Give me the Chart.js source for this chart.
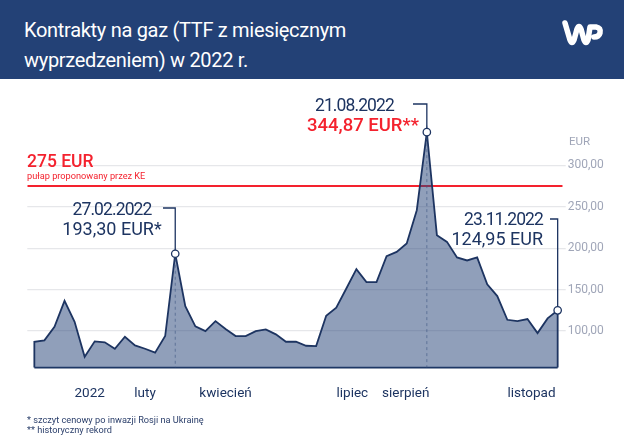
<!DOCTYPE html>
<html lang="pl">
<head>
<meta charset="utf-8">
<title>Kontrakty na gaz</title>
<script src="https://cdn.jsdelivr.net/npm/chart.js@4/dist/chart.umd.min.js"></script>
<style>
    html, body { margin: 0; padding: 0; background: #fff; }
    body { width: 624px; height: 444px; position: relative; overflow: hidden; font-family: Roboto, "Noto Sans", sans-serif; }
    #header { position: absolute; left: 0; top: 0; width: 624px; height: 79px; background: #234176; }
    #title { position: absolute; left: 24px; top: 15px; color: #fff; font-size: 20px; letter-spacing: -0.3px; line-height: 30px; white-space: nowrap; }
    #logo { position: absolute; left: 560px; top: 18px; }
    #chartBox { position: absolute; left: 0; top: 79px; width: 624px; height: 365px; }
    #gasChart { display: block; }
    .note { position: absolute; white-space: nowrap; color: #1d3461; font-size: 18px; line-height: 20px; }
    .date { font-size: 17.5px; letter-spacing: -0.9px; }
    .red { color: #f4222e; font-weight: 500; font-size: 18.5px; }
    #capValue { position: absolute; left: 27px; top: 151px; color: #f4222e; font-size: 17.5px; font-weight: 500; }
    #capNote { position: absolute; left: 27px; top: 170px; color: #f4222e; font-size: 9.2px; }
    #unit { position: absolute; left: 569px; top: 134px; color: #a0a6b8; font-size: 11.5px; }
    #foot { position: absolute; left: 27px; top: 415px; color: #2b3f6b; font-size: 9.2px; line-height: 10px; }
</style>
</head>
<body>
<div id="header">
    <div id="title">Kontrakty na gaz (TTF z miesięcznym<br>wyprzedzeniem) w 2022 r.</div>
    <svg id="logo" width="46" height="30" viewBox="0 0 46 30">
        <path d="M5 5 L10 22 Q12 27 14 22 L17 11 Q19 6 21 11 L24 22 Q26 27 28 22 L30 9 L36 9 Q41 10 40 15 Q39 19 34 19" fill="none" stroke="#fff" stroke-width="5.5" stroke-linecap="round" stroke-linejoin="round"/>
    </svg>
</div>
<div id="chartBox"><canvas id="gasChart" width="624" height="365"></canvas></div>
<div id="capValue">275 EUR</div>
<div id="capNote">pułap proponowany przez KE</div>
<div id="unit">EUR</div>
<div class="note" style="left:62px;top:199px;width:100px;text-align:center"><span class="date">27.02.2022</span><br>193,30 EUR*</div>
<div class="note" style="left:307px;top:95px;width:110px"><span class="date" style="margin-left:8px">21.08.2022</span><br><span class="red">344,87 EUR**</span></div>
<div class="note" style="right:81px;top:209px;text-align:right"><span class="date">23.11.2022</span><br>124,95 EUR</div>
<div id="foot">* szczyt cenowy po inwazji Rosji na Ukrainę<br>** historyczny rekord</div>
<script>
// tygodniowe notowania
const prices = [87.1, 88.8, 105.2, 136.5, 111.2, 69, 87.6, 86.4, 78.7, 93.1, 82.8, 78.7, 73.9, 94, 193.3,
    130.1, 105.7, 100, 112, 102.4, 94, 94, 100, 102, 96, 87.1, 87.1, 82.3, 81.9, 118.4, 128.1, 151.4, 174.7,
    159, 159, 190.4, 195.5, 205.7, 245.8, 340, 215.7, 207.6, 188.8, 185.2, 188.8, 156.3, 142.2, 113.6, 112,
    114.5, 97.6, 115.3, 125];
const yTicks = [100, 150, 200, 250, 300];
const monthLabels = ['2022', 'luty', 'kwiecień', 'lipiec', 'sierpień', 'listopad'];
const monthPositions = [5.5, 11, 19, 31.6, 36.9, 49.4];
const capPrice = 275;
const basePrice = 56;

const navy = '#1d3461';

// linie od punktow do opisow i przerywane piony
const calloutPlugin = {
    id: 'callouts',
    afterDatasetsDraw(chart) {
        const { ctx, scales: { x, y } } = chart;
        const callouts = [
            { index: 14, top: 129, left: 163, dashed: true },
            { index: 39, top: 25, left: 413, dashed: true },
            { index: 52, top: 140, left: 550, dashed: false }
        ];
        ctx.save();
        callouts.forEach(c => {
            const px = x.getPixelForValue(c.index);
            const py = y.getPixelForValue(prices[c.index]);
            const bottom = y.getPixelForValue(basePrice);
            if (c.dashed) {
                ctx.strokeStyle = 'rgba(60,85,130,0.6)';
                ctx.lineWidth = 1;
                ctx.setLineDash([3, 3]);
                ctx.beginPath();
                ctx.moveTo(px, py + 5);
                ctx.lineTo(px, bottom);
                ctx.stroke();
                ctx.setLineDash([]);
            }
            ctx.strokeStyle = navy;
            ctx.lineWidth = 1.3;
            ctx.beginPath();
            ctx.moveTo(c.left, c.top);
            ctx.lineTo(px, c.top);
            ctx.lineTo(px, py);
            ctx.stroke();
            ctx.fillStyle = '#fff';
            ctx.beginPath();
            ctx.arc(px, py, 3.7, 0, Math.PI * 2);
            ctx.fill();
            ctx.stroke();
        });
        ctx.restore();
    }
};

const outline = [{ x: 0, y: basePrice }]
    .concat(prices.map((v, i) => ({ x: i, y: v })))
    .concat([{ x: prices.length - 1, y: basePrice }]);

new Chart(document.getElementById('gasChart'), {
    type: 'line',
    data: {
        datasets: [
            {
                data: outline,
                borderColor: navy,
                borderWidth: 1.8,
                backgroundColor: 'rgba(34,64,117,0.5)',
                pointRadius: 0,
                tension: 0,
                fill: { value: basePrice }
            },
            {
                data: [{ x: 0, y: basePrice }, { x: prices.length - 1, y: basePrice }],
                borderColor: navy,
                borderWidth: 1.8,
                pointRadius: 0,
                fill: false
            },
            {
                data: [{ x: -0.7, y: capPrice }, { x: 52.5, y: capPrice }],
                borderColor: '#f4222e',
                borderWidth: 2,
                pointRadius: 0,
                fill: false
            }
        ]
    },
    options: {
        responsive: false,
        animation: false,
        events: [],
        layout: { padding: { left: 27.3 } },
        plugins: { legend: { display: false }, tooltip: { enabled: false } },
        scales: {
            x: {
                type: 'linear',
                min: -0.7,
                max: 52.5,
                grid: { display: false },
                border: { display: false },
                afterBuildTicks: axis => { axis.ticks = monthPositions.map(value => ({ value })); },
                afterFit: axis => { axis.height = 74.8; },
                ticks: {
                    color: navy,
                    font: { family: 'Roboto', size: 13.5 },
                    maxRotation: 0,
                    autoSkip: false,
                    padding: 8,
                    callback: value => monthLabels[monthPositions.indexOf(value)]
                }
            },
            y: {
                position: 'right',
                min: 54,
                max: 393,
                grid: { color: '#e6e7ea', lineWidth: 1.3, tickLength: 3 },
                border: { display: false },
                afterBuildTicks: axis => { axis.ticks = yTicks.map(value => ({ value })); },
                afterFit: axis => { axis.width = 61.3; },
                ticks: {
                    color: '#a0a6b8',
                    font: { family: 'Roboto', size: 12 },
                    padding: 2,
                    callback: value => value.toFixed(2).replace('.', ',')
                }
            }
        }
    },
    plugins: [calloutPlugin]
});
</script>
</body>
</html>
